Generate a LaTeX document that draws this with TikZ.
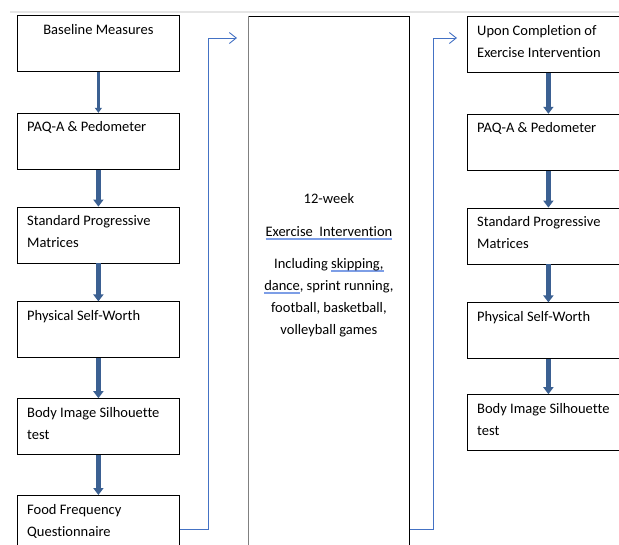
\documentclass[tikz,border=0pt]{standalone}
\usepackage{fontspec}
\setmainfont{Carlito}[Ligatures=NoCommon]
\usetikzlibrary{arrows.meta,positioning}
\definecolor{flowBlue}{RGB}{59,96,146}
\definecolor{linkBlue}{RGB}{68,114,196}
\definecolor{markBlue}{RGB}{125,158,230}
\newcommand\squig[1]{\setbox0\hbox{#1}\rlap{\color{markBlue}\rule[-3pt]{\wd0}{1.5pt}}\box0}

\begin{document}
\begin{tikzpicture}[x=1pt, y=-1pt,
  box/.style={draw, line width=0.8pt, minimum width=162pt,
              minimum height=56pt, inner sep=0pt},
  lbl/.style={inner sep=0pt, align=left, font=\fontsize{14.5}{22}\selectfont},
  down/.style={-{Triangle[width=10pt,length=7pt]}, line width=4.5pt, flowBlue},
  link/.style={-{Straight Barb[length=7pt,width=11pt]}, line width=0.9pt, linkBlue}
]
  \useasboundingbox (0,0) rectangle (619,544);
  \draw[black!10, line width=1.5pt] (10,12) -- (619,12);

  % baseline measures
  \node[box, anchor=north west]                 (L1) at (17,15) {};
  \node[box, below=41pt of L1]                  (L2) {};
  \node[box, below=37pt of L2]                  (L3) {};
  \node[box, below=38pt of L3]                  (L4) {};
  \node[box, below=40pt of L4]                  (L5) {};
  \node[box, below=40pt of L5, minimum height=68pt] (L6) {};

  % one-line labels sit on -19pt, two-line labels on -41pt (last baseline)
  \node[lbl, anchor=base]      (L1t) at ([yshift=-19pt]L1.north) {Baseline Measures};
  \node[lbl, anchor=base west] (L2t) at ([xshift=10pt,yshift=-19pt]L2.north west) {PAQ-A \& Pedometer};
  \node[lbl, anchor=base west] (L3t) at ([xshift=10pt,yshift=-41pt]L3.north west) {Standard Progressive\\Matrices};
  \node[lbl, anchor=base west] (L4t) at ([xshift=10pt,yshift=-19pt]L4.north west) {Physical Self-Worth};
  \node[lbl, anchor=base west] (L5t) at ([xshift=10pt,yshift=-41pt]L5.north west) {Body Image Silhouette\\test};
  \node[lbl, anchor=base west] (L6t) at ([xshift=10pt,yshift=-41pt]L6.north west) {Food Frequency\\Questionnaire};

  \draw[down, line width=2.5pt, -{Triangle[width=7pt,length=5pt]}] (L1.south) -- (L2.north);
  \foreach \a/\b in {L2/L3, L3/L4, L4/L5, L5/L6}
    \draw[down] (\a.south) -- (\b.north);

  % intervention
  \node[box, anchor=north west, minimum width=161pt, minimum height=560pt] (mid) at (248,16) {};
  \draw[gray, line width=0.8pt] (mid.north west) -- (mid.south west);
  \node[lbl, align=center, anchor=base] (midt) at ([yshift=-318.5pt]mid.north)
    {12-week\\[11pt]
     \squig{Exercise\ \ Intervention}\\[10pt]
     Including \squig{skipping,}\\
     \squig{dance}, sprint running,\\
     football, basketball,\\
     volleyball games};

  % post measures
  \node[box, anchor=north west]                 (R1) at (467,16) {};
  \node[box, below=41pt of R1]                  (R2) {};
  \node[box, below=37pt of R2]                  (R3) {};
  \node[box, below=38pt of R3]                  (R4) {};
  \node[box, below=35pt of R4]                  (R5) {};

  \node[lbl, anchor=base west] (R1t) at ([xshift=10pt,yshift=-41pt]R1.north west) {Upon Completion of\\Exercise Intervention};
  \node[lbl, anchor=base west] (R2t) at ([xshift=10pt,yshift=-19pt]R2.north west) {PAQ-A \& Pedometer};
  \node[lbl, anchor=base west] (R3t) at ([xshift=10pt,yshift=-41pt]R3.north west) {Standard Progressive\\Matrices};
  \node[lbl, anchor=base west] (R4t) at ([xshift=10pt,yshift=-19pt]R4.north west) {Physical Self-Worth};
  \node[lbl, anchor=base west] (R5t) at ([xshift=10pt,yshift=-41pt]R5.north west) {Body Image Silhouette\\test};

  \foreach \a/\b in {R1/R2, R2/R3, R3/R4, R4/R5}
    \draw[down] (\a.south) -- (\b.north);

  % links between stages
  \coordinate (kneeL) at (208,38);
  \coordinate (inL)   at (237,38);
  \coordinate (kneeR) at (433,38);
  \coordinate (inR)   at (457,38);
  \draw[link] (L6.east) -| (kneeL) -- (inL);
  \draw[link] (mid.east |- L6.east) -| (kneeR) -- (inR);
\end{tikzpicture}
\end{document}
